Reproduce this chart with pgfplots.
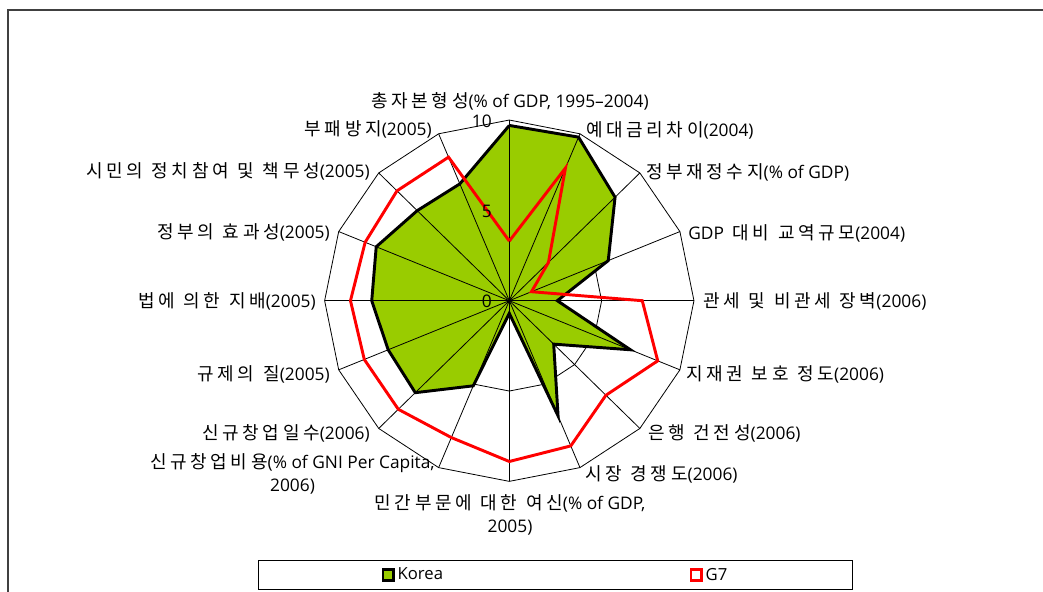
\documentclass[border=0pt]{standalone}
\usepackage{pgfplots}
\pgfplotsset{compat=1.18}
\usepackage{pgfplotstable}
\usepackage{fontspec}
\setmainfont[LetterSpace=20,WordSpace=1.15]{Noto Sans CJK KR}
\newfontfamily\latf{Open Sans}
\newcommand{\lat}[1]{{\latf\fontsize{13}{14.4}\selectfont #1}}
\definecolor{kgreen}{RGB}{153,204,0}
\definecolor{frame}{RGB}{64,64,64}

\pgfplotstableread{
i korea g7
0 9.7 3.3
1 9.8 7.95
2 8.1 3.0
3 5.8 1.3
4 2.6 7.2
5 7.1 8.7
6 3.4 7.4
7 6.9 8.7
8 0.7 8.9
9 5.1 8.2
10 7.2 8.5
11 7.1 8.5
12 7.45 8.6
13 7.8 8.45
14 7.05 8.6
15 7.0 8.6
16 9.7 3.3
}\radardata

\begin{document}
\begin{tikzpicture}[x=0.75pt,y=0.75pt,font=\fontsize{13.5}{15.5}\selectfont]
\useasboundingbox (0,0) rectangle (1043,592);
\draw[frame,line width=1.5pt] (1043,582) -- (8,582) -- (8,0);
\begin{axis}[
  at={(381.975pt,218.475pt)}, anchor=origin,
  x=13.85pt, y=13.55pt,
  xmin=-10.5, xmax=10.5, ymin=-10.5, ymax=10.5,
  hide axis, clip=false,
  legend columns=2,
  legend style={at={(0.62,-0.223)}, anchor=center, draw=black, line width=0.75pt,
    inner xsep=92pt, inner ysep=3.5pt,
    /tikz/every even column/.append style={column sep=183pt},
    font=\latf\fontsize{12.5}{14.4}\selectfont},
  legend image code/.code={\draw[#1,line width=2pt] (0pt,-4pt) rectangle (8pt,4pt);},
]
% value rings (5 and 10)
\addplot[black, line width=0.6pt, forget plot] table[x expr={5*sin(22.5*\thisrow{i})}, y expr={5*cos(22.5*\thisrow{i})}] {\radardata};
\addplot[black, line width=0.6pt, forget plot] table[x expr={10*sin(22.5*\thisrow{i})}, y expr={10*cos(22.5*\thisrow{i})}] {\radardata};
% Korea
\addplot[fill=kgreen, draw=black, line width=2.2pt, line join=miter] table[x expr={\thisrow{korea}*sin(22.5*\thisrow{i})}, y expr={\thisrow{korea}*cos(22.5*\thisrow{i})}] {\radardata};
\addlegendentry{Korea}
% spokes
\addplot[black, line width=0.6pt, forget plot] coordinates {(0,-10) (0,10)};
\addplot[black, line width=0.6pt, forget plot] coordinates {(-3.827,-9.239) (3.827,9.239)};
\addplot[black, line width=0.6pt, forget plot] coordinates {(-7.071,-7.071) (7.071,7.071)};
\addplot[black, line width=0.6pt, forget plot] coordinates {(-9.239,-3.827) (9.239,3.827)};
\addplot[black, line width=0.6pt, forget plot] coordinates {(-10,0) (10,0)};
\addplot[black, line width=0.6pt, forget plot] coordinates {(-9.239,3.827) (9.239,-3.827)};
\addplot[black, line width=0.6pt, forget plot] coordinates {(-7.071,7.071) (7.071,-7.071)};
\addplot[black, line width=0.6pt, forget plot] coordinates {(-3.827,9.239) (3.827,-9.239)};
% G7
\addplot[draw=red, fill=white, fill opacity=0, line width=2.2pt, line join=miter] table[x expr={\thisrow{g7}*sin(22.5*\thisrow{i})}, y expr={\thisrow{g7}*cos(22.5*\thisrow{i})}] {\radardata};
\addlegendentry{G7}
\end{axis}
% value tick labels
\node[anchor=east, inner sep=0pt] at (492,471) {\lat{10}};
\node[anchor=east, inner sep=0pt] at (492,381) {\lat{5}};
\node[anchor=east, inner sep=0pt] at (492,291) {\lat{0}};
% category labels
\node[anchor=center, inner sep=0pt] at (510,491) {총자본형성\lat{(\% of GDP, 1995–2004)}};
\node[anchor=west, inner sep=0pt] at (586,462) {예대금리차이\lat{(2004)}};
\node[anchor=west, inner sep=0pt] at (646,420) {정부재정수지\lat{(\% of GDP)}};
\node[anchor=west, inner sep=0pt] at (688,359) {\lat{GDP} 대비 교역규모\lat{(2004)}};
\node[anchor=west, inner sep=0pt] at (703,291) {관세 및 비관세 장벽\lat{(2006)}};
\node[anchor=west, inner sep=0pt] at (686,218) {지재권 보호 정도\lat{(2006)}};
\node[anchor=west, inner sep=0pt] at (648,159) {은행 건전성\lat{(2006)}};
\node[anchor=west, inner sep=0pt] at (585,118) {시장 경쟁도\lat{(2006)}};
\node[anchor=center, inner sep=0pt, align=center] at (510,77) {민간부문에 대한 여신\lat{(\% of GDP,}\\[2pt]\lat{2005)}};
\node[anchor=east, inner sep=0pt, align=center] at (435,118) {신규창업비용\lat{(\% of GNI Per Capita,}\\[2pt]\lat{2006)}};
\node[anchor=east, inner sep=0pt] at (370,159) {신규창업일수\lat{(2006)}};
\node[anchor=east, inner sep=0pt] at (330,218) {규제의 질\lat{(2005)}};
\node[anchor=east, inner sep=0pt] at (316,291) {법에 의한 지배\lat{(2005)}};
\node[anchor=east, inner sep=0pt] at (330,360) {정부의 효과성\lat{(2005)}};
\node[anchor=east, inner sep=0pt] at (370,421) {시민의 정치참여 및 책무성\lat{(2005)}};
\node[anchor=east, inner sep=0pt] at (432,463) {부패방지\lat{(2005)}};
\end{tikzpicture}
\end{document}
